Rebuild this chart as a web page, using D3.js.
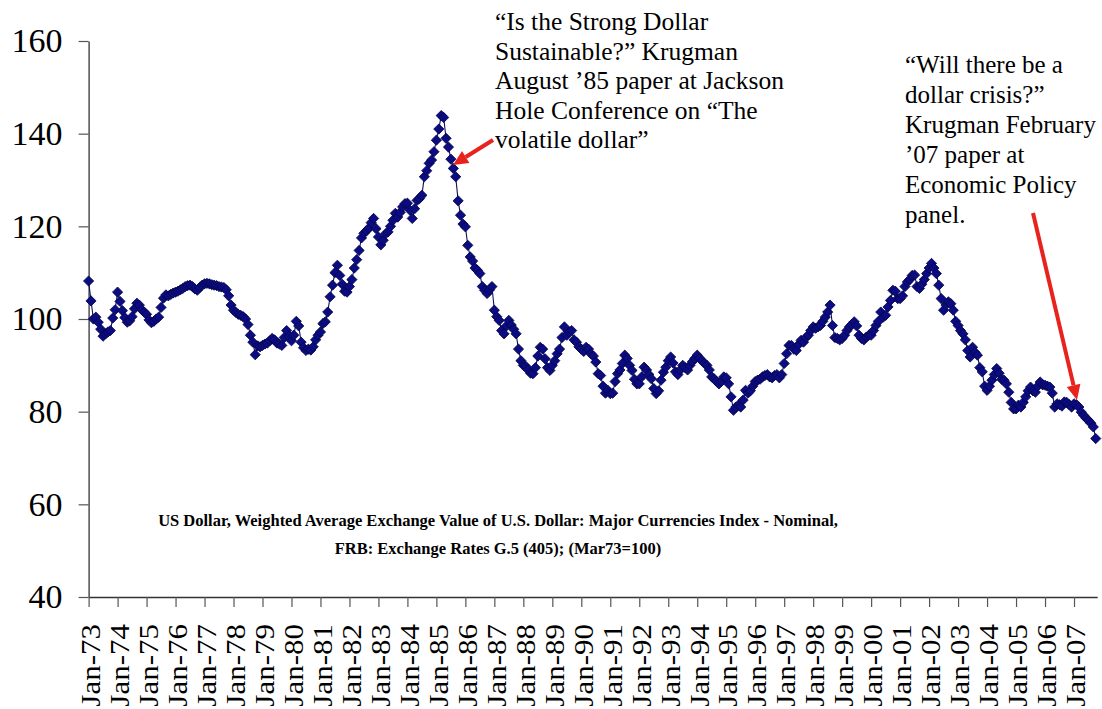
<!DOCTYPE html>
<html>
<head>
<meta charset="utf-8">
<script src="https://cdn.jsdelivr.net/npm/d3@7"></script>
<style>
  html, body { margin: 0; padding: 0; background: #fff; }
  svg { display: block; }
  text { font-family: "Liberation Serif", "Times New Roman", serif; fill: #000; }
</style>
</head>
<body>
<svg id="chart" width="1102" height="709"></svg>
<script>
// ---- Data: monthly index, Jan 1973 .. Oct 2007 (Mar73 = 100) ----
const startYear = 1973;
const indexValues = [
  108.2, 103.9, 100.0, 100.4, 99.3, 97.8, 96.3, 96.8, 97.2, 97.5, 100.2, 102.0,   // 1973
  105.8, 103.8, 101.8, 100.3, 99.3, 99.6, 100.5, 102.2, 103.4, 103.0, 102.0, 101.5, // 1974
  101.0, 99.8, 99.2, 99.5, 100.0, 100.4, 102.5, 104.5, 105.2, 105.0, 105.3, 105.6,  // 1975
  105.8, 106.0, 106.3, 106.6, 107.0, 107.2, 107.3, 107.0, 106.5, 106.2, 106.8, 107.3, // 1976
  107.6, 107.7, 107.6, 107.4, 107.3, 107.2, 107.0, 106.9, 106.8, 106.3, 105.0, 103.0, // 1977
  101.9, 101.4, 101.0, 100.8, 100.5, 100.0, 98.8, 96.5, 95.0, 92.3, 94.2, 94.0,     // 1978
  94.3, 94.6, 94.8, 95.3, 95.8, 95.5, 94.8, 94.6, 94.3, 96.0, 97.5, 96.3,           // 1979
  95.3, 96.5, 99.5, 98.5, 95.0, 93.8, 93.2, 93.5, 93.3, 94.0, 95.5, 96.5,           // 1980
  97.2, 99.0, 99.4, 101.5, 104.8, 107.3, 110.0, 111.6, 109.4, 107.5, 106.0, 105.8,  // 1981
  107.0, 108.5, 111.0, 112.8, 114.8, 117.5, 118.5, 119.0, 119.6, 120.8, 121.7, 119.5, // 1982
  117.7, 116.0, 117.0, 118.4, 118.8, 120.0, 121.3, 122.8, 122.0, 123.0, 124.2, 124.9, // 1983
  125.0, 123.5, 121.7, 123.8, 125.6, 126.0, 126.7, 130.7, 132.0, 133.6, 134.3, 136.1, // 1984
  138.6, 141.0, 143.9, 143.5, 139.0, 137.1, 134.5, 132.5, 130.7, 125.5, 122.4, 120.5, // 1985
  119.9, 115.9, 113.4, 112.5, 111.0, 110.5, 109.8, 107.0, 106.2, 105.5, 106.3, 107.0, // 1986
  101.9, 100.5, 99.7, 97.5, 96.8, 98.5, 99.7, 98.7, 97.8, 96.8, 93.5, 91.0,         // 1987
  90.0, 89.8, 89.0, 88.3, 88.2, 89.5, 92.0, 93.9, 93.5, 91.4, 89.5, 88.9,           // 1988
  90.0, 91.0, 92.5, 93.5, 96.0, 98.3, 96.5, 97.2, 97.5, 95.5, 95.0, 94.0,           // 1989
  93.5, 93.0, 93.9, 93.5, 92.5, 92.0, 90.7, 88.2, 87.8, 85.5, 84.0, 84.6,           // 1990
  83.9, 84.0, 86.5, 88.2, 89.0, 90.4, 92.2, 91.5, 90.0, 88.9, 87.0, 86.0,           // 1991
  86.0, 87.5, 89.6, 89.0, 88.0, 87.1, 85.0, 83.9, 84.5, 86.8, 88.5, 89.6,           // 1992
  91.0, 91.8, 90.5, 88.6, 88.0, 89.0, 90.0, 89.5, 89.0, 90.0, 90.8, 91.5,           // 1993
  92.2, 91.5, 91.0, 90.4, 90.0, 89.0, 87.5, 87.1, 86.5, 86.0, 86.5, 87.5,           // 1994
  87.3, 86.0, 83.2, 80.3, 81.0, 81.4, 81.0, 82.5, 84.6, 84.0, 84.5, 85.5,           // 1995
  86.5, 86.8, 87.0, 87.5, 87.8, 88.0, 87.5, 87.3, 87.8, 88.0, 87.3, 88.0,           // 1996
  90.4, 92.5, 94.3, 94.3, 93.5, 93.2, 94.5, 95.4, 95.0, 96.0, 96.5, 97.5,           // 1997
  98.3, 98.0, 98.3, 98.6, 99.5, 100.4, 101.5, 103.0, 98.6, 96.0, 95.8, 95.5,        // 1998
  95.8, 96.5, 97.5, 98.3, 98.8, 99.4, 98.5, 96.5, 95.8, 95.5, 96.1, 96.5,           // 1999
  96.5, 97.5, 98.6, 99.5, 101.5, 100.4, 100.8, 102.6, 104.0, 106.2, 106.0, 104.4,   // 2000
  104.4, 105.0, 107.0, 108.0, 108.5, 109.4, 109.5, 107.0, 106.6, 107.5, 108.5, 109.8, // 2001
  111.0, 112.0, 111.0, 109.8, 107.3, 104.4, 101.9, 103.0, 103.7, 103.3, 101.9, 99.5,  // 2002
  98.6, 97.5, 96.8, 95.5, 93.2, 91.8, 93.9, 92.8, 92.2, 89.5, 88.6, 85.5,           // 2003
  84.6, 85.5, 86.8, 88.0, 89.3, 88.3, 87.0, 86.8, 86.0, 84.2, 82.0, 80.6,           // 2004
  80.6, 81.4, 81.0, 82.0, 83.2, 84.5, 85.3, 84.5, 84.2, 85.5, 86.4, 85.8,           // 2005
  85.7, 85.5, 85.3, 84.0, 81.0, 81.7, 81.5, 81.2, 82.1, 82.0, 81.5, 81.0,           // 2006
  81.7, 81.5, 81.0, 79.9, 79.2, 78.6, 78.1, 77.5, 76.7, 74.2                        // 2007
];
const yTicks = [40, 60, 80, 100, 120, 140, 160];
const xTickYears = d3.range(1973, 2008);
const xTickLabels = xTickYears.map(y => "Jan-" + String(y % 100).padStart(2, "0"));
const subtitleLines = [
  "US Dollar, Weighted Average Exchange Value of U.S. Dollar: Major Currencies Index - Nominal,",
  "FRB: Exchange Rates G.5 (405); (Mar73=100)"
];
const note1Lines = [
  "\u201CIs the Strong Dollar",
  "Sustainable?\u201D Krugman",
  "August \u201985 paper at Jackson",
  "Hole Conference on \u201CThe",
  "volatile dollar\u201D"
];
const note2Lines = [
  "\u201CWill there be a",
  "dollar crisis?\u201D",
  "Krugman February",
  "\u201907 paper at",
  "Economic Policy",
  "panel."
];

// ---- Layout ----
const svg = d3.select("#chart");
svg.append("rect").attr("width", 1102).attr("height", 709).attr("fill", "#fff");

const x = d3.scaleLinear().domain([1973, 2007.8]).range([88.6, 1097.2]);
const y = d3.scaleLinear().domain([40, 160]).range([597, 41]);

const points = indexValues.map((v, i) => ({ t: startYear + i / 12, v }));

// Y axis
const yAxis = svg.append("g")
  .attr("transform", `translate(${x(1973)},0)`)
  .call(d3.axisLeft(y).tickValues(yTicks).tickSize(10).tickSizeOuter(0).tickPadding(16));
yAxis.select(".domain").attr("stroke", "#333").attr("stroke-width", 1.3);
yAxis.selectAll(".tick line").attr("stroke", "#555").attr("stroke-width", 1.2);
yAxis.selectAll(".tick text")
  .style("font-family", '"Liberation Serif", "Times New Roman", serif')
  .style("font-size", "34px").attr("fill", "#111");

// X axis
const xAxis = svg.append("g")
  .attr("transform", `translate(0,${y(40)})`)
  .call(d3.axisBottom(x).tickValues(xTickYears).tickSize(10).tickSizeOuter(0)
    .tickFormat((d, i) => xTickLabels[i]));
xAxis.select(".domain").attr("stroke", "#333").attr("stroke-width", 1.3);
xAxis.selectAll(".tick line").attr("stroke", "#555").attr("stroke-width", 1.2);
xAxis.selectAll(".tick text")
  .style("font-family", '"Liberation Serif", "Times New Roman", serif')
  .style("font-size", "31px").attr("fill", "#111")
  .attr("text-anchor", "end")
  .attr("dy", "0.35em")
  .attr("y", 0)
  .attr("transform", "translate(1,27) rotate(-90) scale(1,0.9)");

// Line
svg.append("path")
  .datum(points)
  .attr("fill", "none")
  .attr("stroke", "#10105a")
  .attr("stroke-width", 1.1)
  .attr("d", d3.line().x(d => x(d.t)).y(d => y(d.v)));

// Diamond markers
const diamond = d3.symbol().type(d3.symbolSquare).size(52);
svg.append("g").selectAll("path")
  .data(points)
  .join("path")
  .attr("d", diamond)
  .attr("transform", d => `translate(${x(d.t)},${y(d.v)}) rotate(45)`)
  .attr("fill", "#0b0b82")
  .attr("stroke", "#06064a")
  .attr("stroke-width", 0.8);

// Subtitle (bold, centered)
svg.append("g").selectAll("text")
  .data(subtitleLines)
  .join("text")
  .attr("x", 498)
  .attr("y", (d, i) => 526 + i * 28)
  .attr("text-anchor", "middle")
  .style("font-size", "16.5px")
  .style("font-weight", "bold")
  .text(d => d);

// Annotations
function note(lines, x0, y0, size, lh) {
  svg.append("g").selectAll("text")
    .data(lines)
    .join("text")
    .attr("x", x0)
    .attr("y", (d, i) => y0 + i * lh)
    .style("font-size", size + "px")
    .text(d => d);
}
note(note1Lines, 495, 30, 25.5, 29.6);
note(note2Lines, 905, 73, 25, 30);

// Red arrows
function arrow(x1, y1, x2, y2) {
  const ang = Math.atan2(y2 - y1, x2 - x1);
  const hl = 15, hw = 7;
  const bx = x2 - hl * Math.cos(ang), by = y2 - hl * Math.sin(ang);
  svg.append("line")
    .attr("x1", x1).attr("y1", y1).attr("x2", bx).attr("y2", by)
    .attr("stroke", "#e8221c").attr("stroke-width", 4);
  const px = -Math.sin(ang) * hw, py = Math.cos(ang) * hw;
  svg.append("path")
    .attr("d", `M${x2},${y2}L${bx + px},${by + py}L${bx - px},${by - py}Z`)
    .attr("fill", "#e8221c");
}
arrow(493, 140, 453, 165);
arrow(1033, 213, 1077, 400);
</script>
</body>
</html>
